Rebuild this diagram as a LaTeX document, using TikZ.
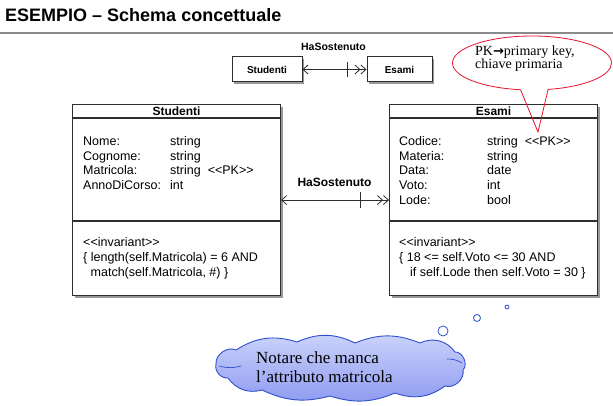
\documentclass[tikz,border=0pt]{standalone}
\usepackage{fontspec}
\newfontfamily\ui{Liberation Sans}
\newfontfamily\serifnote{Liberation Serif}
\newfontfamily\symfont{DejaVu Sans}
\usetikzlibrary{shapes.callouts,shadows,arrows.meta,calc}

\definecolor{boxline}{HTML}{2E2E2E}
\definecolor{rulegray}{HTML}{8A8A8A}
\definecolor{calloutred}{HTML}{E8102C}
\definecolor{cloudline}{HTML}{2E4FCC}
\definecolor{cloudtop}{HTML}{CBD3FB}
\definecolor{cloudbottom}{HTML}{8E9AF0}

\begin{document}
\begin{tikzpicture}[x=1pt,y=-1pt,
  classbox/.style={draw=boxline, line width=1.1pt, fill=white, rectangle, inner sep=0pt,
    drop shadow={shadow xshift=2pt, shadow yshift=-2.5pt, opacity=0.4, fill=black}},
  smallbox/.style={classbox, line width=1pt, font=\ui\fontsize{10}{12}\selectfont\bfseries},
  sep/.style={draw=boxline, line width=1.1pt},
  assoc/.style={draw=boxline, line width=.8pt,
    {Straight Barb[length=5pt,width=9pt]}-{Straight Barb[length=5pt,width=9pt] Straight Barb[length=5pt,width=9pt]}},
  tickmark/.style={draw=boxline, line width=.9pt},
  classname/.style={font=\ui\fontsize{12}{14}\selectfont\bfseries},
  body/.style={anchor=base west, inner sep=0pt, font=\ui\fontsize{12.5}{14.8}\selectfont},
  invar/.style={anchor=base west, inner sep=0pt, font=\ui\fontsize{12.5}{15}\selectfont},
  bubble/.style={circle, draw=cloudline, fill=white, line width=.8pt, inner sep=0pt},
  cloudpath/.style={draw=cloudline, line width=.9pt, top color=cloudtop, bottom color=cloudbottom},
  cloudcrease/.style={draw=cloudline, line width=.7pt}
]
\useasboundingbox (0,0) rectangle (613,406);

% heading and rule
\node[anchor=base west, inner sep=0pt, font=\ui\fontsize{18}{22}\selectfont\bfseries] (title) at (5,22) {ESEMPIO – Schema concettuale};
\coordinate (rule-l) at (0,33);
\coordinate (rule-r) at (613,33);
\draw[rulegray, line width=1.5pt] (rule-l) -- (rule-r);

% compact view of the association
\node[smallbox, minimum width=70pt, minimum height=25pt] (s-stu) at (267,69.5) {Studenti};
\node[smallbox, minimum width=65pt, minimum height=25pt] (s-esa) at (399.5,69.5) {Esami};
\draw[assoc] (s-stu.east) -- (s-esa.west);
\draw[tickmark] ($(s-stu.east)!0.71!(s-esa.west)$) ++(0,-7.5) -- ++(0,15);
\node[font=\ui\fontsize{10.5}{12}\selectfont\bfseries] (s-lab) at (333.5,47) {HaSostenuto};

% class Studenti
\node[classbox, anchor=north west, minimum width=208pt, minimum height=191pt] (stu) at (72,104) {};
\node[classname] (stu-name) at ($(stu.north)+(0,7)$) {Studenti};
\draw[sep] ($(stu.north west)+(0,14)$) -- ($(stu.north east)+(0,14)$);
\draw[sep] ($(stu.north west)+(0,117)$) -- ($(stu.north east)+(0,117)$);
\node[body] (stu-attr) at (83,145.3) {\begin{tabular}[t]{@{}p{87pt}@{}l@{}}
Nome: & string\\
Cognome: & string\\
Matricola: & string\hspace{7pt}<<PK>>\\
AnnoDiCorso: & int
\end{tabular}};
\node[invar] (stu-inv) at (83,246.5) {\begin{tabular}[t]{@{}l@{}}
<<invariant>>\\
\{ length(self.Matricola) = 6 AND\\
\hspace{7.5pt}match(self.Matricola, \#) \}
\end{tabular}};

% class Esami
\node[classbox, anchor=north west, minimum width=208pt, minimum height=191pt] (esa) at (389,104) {};
\node[classname] (esa-name) at ($(esa.north)+(0,7)$) {Esami};
\draw[sep] ($(esa.north west)+(0,14)$) -- ($(esa.north east)+(0,14)$);
\draw[sep] ($(esa.north west)+(0,117)$) -- ($(esa.north east)+(0,117)$);
\node[body] (esa-attr) at (399,145.3) {\begin{tabular}[t]{@{}p{88pt}@{}l@{}}
Codice: & string\hspace{7pt}<<PK>>\\
Materia: & string\\
Data: & date\\
Voto: & int\\
Lode: & bool
\end{tabular}};
\node[invar] (esa-inv) at (399,246.5) {\begin{tabular}[t]{@{}l@{}}
<<invariant>>\\
\{ 18 <= self.Voto <= 30 AND\\
\hspace{11pt}if self.Lode then self.Voto = 30 \}
\end{tabular}};

% association between the classes
\draw[assoc] (stu.east) -- (esa.west);
\draw[tickmark] ($(stu.east)!0.734!(esa.west)$) ++(0,-8) -- ++(0,16);
\node[font=\ui\fontsize{12}{14}\selectfont\bfseries] (assoc-lab) at (334.5,182) {HaSostenuto};

% primary key note
\node[ellipse callout, draw=calloutred, line width=.8pt, minimum width=159pt, minimum height=54pt,
      inner sep=0pt, callout absolute pointer={(538,132)}, callout pointer arc=20] (pk-note) at (532,63) {};
\node[anchor=west, inner sep=0pt, align=left, font=\serifnote\fontsize{14}{13.5}\selectfont] (pk-text) at (475,58.5)
  {PK{\symfont\bfseries\fontsize{13}{12}\selectfont →}primary key,\\chiave primaria};

% thought cloud
\node[bubble, minimum size=4pt] (bub3) at (507,307) {};
\node[bubble, minimum size=7pt] (bub2) at (477,318) {};
\node[bubble, minimum size=10pt] (bub1) at (443,331) {};
\path[cloudpath] (216,364) to[bend left=60] (236,350) to[bend left=25] (297,342)
  to[bend left=25] (355,343) to[bend left=22] (420,343) to[bend left=40] (455,352)
  to[bend left=70] (463,370) to[bend left=60] (445,386) to[bend left=28] (395,393)
  to[bend left=20] (330,396) to[bend left=20] (262,390) to[bend left=35] (228,378)
  to[bend left=55] (216,364) -- cycle;
\draw[cloudcrease] (219,366) to[bend right=15] (241,366);
\draw[cloudcrease] (447,359) to[bend left=15] (462,363);
\node[anchor=west, inner sep=0pt, align=left, font=\serifnote\fontsize{17}{19}\selectfont] (cloud-text) at (256,367.5)
  {Notare che manca\\l’attributo matricola};
\end{tikzpicture}
\end{document}
